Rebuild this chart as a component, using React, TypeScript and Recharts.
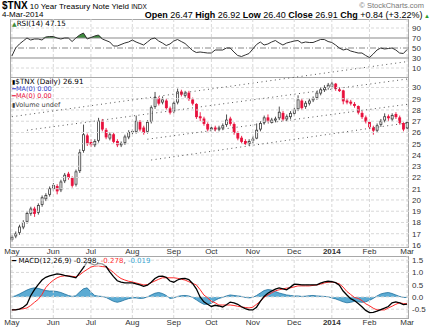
import React from "react"
import { ComposedChart, Line, Area, Bar, XAxis, YAxis, ReferenceLine } from "recharts"

// month gridlines: index of first bar of each month (2 trading days per bar)
const monthLabels = ["May", "Jun", "Jul", "Aug", "Sep", "Oct", "Nov", "Dec", "2014", "Feb", "Mar"]
const monthStarts = [0, 11, 21, 32, 43, 53, 64, 75, 85, 95, 105]

const opens = [
  16.5, 16.8, 17.1, 17.6, 18.1, 18.8, 19.2, 18.9, 19.6, 20.1,
  20.5, 21.0, 21.2, 20.9, 21.7, 22.3, 21.9, 21.4, 22.6, 24.4,
  25.7, 25.1, 24.9, 25.3, 27.0, 26.2, 25.5, 25.8, 25.2, 24.9,
  25.1, 25.6, 26.1, 26.1, 26.9, 26.4, 26.1, 27.0, 28.3, 29.0,
  28.7, 28.8, 28.1, 27.9, 28.7, 29.6, 29.3, 29.5, 28.9, 28.5,
  27.4, 27.2, 26.7, 26.3, 26.4, 26.3, 26.4, 26.7, 27.2, 26.7,
  25.9, 25.5, 25.2, 25.0, 25.3, 25.5, 26.3, 26.9, 27.3, 26.9,
  27.1, 27.3, 27.7, 27.2, 27.4, 27.7, 28.1, 28.8, 28.3, 28.6,
  28.9, 29.1, 29.5, 29.8, 30.0, 30.1, 30.3, 29.8, 29.7, 28.8,
  28.7, 28.5, 28.3, 27.7, 27.3, 26.9, 26.4, 26.2, 26.7, 27.1,
  27.4, 27.2, 27.6, 27.3, 26.8, 26.4,
]
const highs = [
  16.9, 17.2, 17.8, 18.2, 19.0, 19.4, 19.4, 19.7, 20.4, 20.6,
  21.2, 21.5, 21.4, 21.8, 22.4, 22.5, 22.1, 22.7, 24.5, 26.7,
  25.9, 25.4, 25.4, 27.3, 27.2, 26.4, 26.0, 26.0, 25.4, 25.2,
  25.8, 26.2, 26.3, 27.5, 27.1, 26.6, 27.1, 28.4, 29.6, 29.2,
  29.2, 29.0, 28.3, 28.8, 29.9, 29.8, 29.7, 29.7, 29.1, 28.6,
  27.8, 27.4, 26.9, 26.6, 26.6, 26.6, 26.8, 27.6, 27.4, 26.9,
  26.1, 25.7, 25.4, 25.4, 25.7, 26.8, 27.0, 27.5, 27.6, 27.3,
  27.4, 28.3, 27.9, 27.6, 27.9, 28.2, 29.3, 29.0, 28.8, 29.0,
  29.2, 29.7, 30.0, 30.2, 30.4, 30.5, 30.4, 30.0, 29.8, 29.0,
  28.9, 28.7, 28.4, 27.9, 27.5, 27.0, 26.6, 26.8, 27.2, 27.7,
  27.6, 27.7, 27.8, 27.5, 26.9, 27.0,
]
const lows = [
  16.3, 16.6, 16.9, 17.4, 17.9, 18.6, 18.5, 18.7, 19.4, 19.9,
  20.3, 20.8, 20.5, 20.7, 21.5, 21.8, 21.1, 21.2, 22.4, 24.2,
  24.8, 24.7, 24.7, 25.1, 26.1, 25.4, 25.3, 25.0, 24.7, 24.7,
  24.9, 25.4, 25.8, 25.9, 26.1, 25.8, 25.9, 26.8, 28.1, 28.4,
  28.5, 28.0, 27.6, 27.7, 28.5, 29.2, 29.1, 28.8, 28.4, 27.2,
  27.0, 26.6, 26.1, 26.1, 26.1, 26.1, 26.2, 26.5, 26.6, 25.8,
  25.3, 25.0, 24.9, 24.8, 25.0, 25.4, 26.1, 26.7, 26.9, 26.8,
  26.9, 27.1, 27.0, 27.0, 27.2, 27.5, 27.9, 28.0, 28.1, 28.4,
  28.7, 28.9, 29.3, 29.6, 29.8, 29.9, 29.7, 29.6, 28.5, 28.5,
  28.4, 28.2, 27.6, 27.2, 26.8, 26.3, 25.8, 26.0, 26.5, 26.9,
  27.0, 27.0, 27.2, 26.7, 26.1, 26.3,
]
const closes = [
  16.7, 17.0, 17.6, 18.0, 18.8, 19.2, 18.8, 19.5, 20.2, 20.4,
  21.0, 21.3, 20.8, 21.6, 22.2, 22.0, 21.3, 22.5, 24.2, 25.8,
  25.0, 24.9, 25.2, 27.0, 26.3, 25.6, 25.8, 25.2, 24.9, 25.0,
  25.6, 26.0, 26.0, 27.0, 26.3, 26.0, 26.9, 28.2, 29.1, 28.6,
  28.9, 28.2, 27.8, 28.6, 29.6, 29.4, 29.5, 29.0, 28.6, 27.4,
  27.3, 26.8, 26.3, 26.4, 26.3, 26.4, 26.6, 27.1, 26.8, 26.0,
  25.5, 25.2, 25.0, 25.2, 25.4, 26.2, 26.8, 27.3, 27.0, 27.1,
  27.2, 27.8, 27.2, 27.4, 27.7, 28.0, 28.9, 28.2, 28.6, 28.8,
  29.0, 29.5, 29.8, 30.0, 30.2, 30.3, 29.9, 29.8, 28.8, 28.7,
  28.6, 28.4, 27.8, 27.4, 27.0, 26.5, 26.2, 26.6, 27.0, 27.4,
  27.3, 27.5, 27.4, 26.9, 26.3, 26.9,
]
const rsiValues = [
  34, 50, 58, 64, 70, 66, 68, 68, 66, 72,
  73, 73, 70, 68, 70, 70, 63, 70, 76, 80,
  68, 71, 74, 76, 68, 65, 62, 54, 54, 57,
  60, 62, 66, 62, 59, 56, 62, 68, 70, 64,
  60, 55, 58, 64, 67, 63, 59, 52, 45, 41,
  42, 41, 40, 40, 46, 46, 46, 50, 50, 42,
  35, 33, 36, 39, 48, 57, 62, 56, 58, 62,
  65, 60, 56, 60, 62, 64, 65, 60, 62, 61,
  61, 64, 67, 67, 63, 61, 56, 50, 46, 48,
  44, 42, 40, 40, 35, 31, 38, 46, 50, 48,
  49, 50, 46, 40, 39, 47,
]
const macdValues = [
  -0.53, -0.53, -0.5, -0.42, -0.3, 0.05, 0.3, 0.5, 0.69, 0.8,
  0.86, 0.9, 0.94, 0.92, 0.88, 0.85, 0.82, 0.78, 0.98, 1.2,
  1.43, 1.36, 1.3, 1.37, 1.35, 1.25, 1.02, 0.83, 0.66, 0.6,
  0.57, 0.57, 0.57, 0.53, 0.49, 0.43, 0.48, 0.6, 0.75, 0.84,
  0.85, 0.8, 0.65, 0.6, 0.69, 0.75, 0.76, 0.71, 0.55, 0.33,
  0.0, -0.2, -0.3, -0.39, -0.34, -0.37, -0.41, -0.32, -0.21, -0.24,
  -0.3, -0.4, -0.48, -0.53, -0.53, -0.42, -0.18, 0.02, 0.15, 0.24,
  0.32, 0.37, 0.33, 0.29, 0.4, 0.52, 0.51, 0.49, 0.49, 0.49,
  0.49, 0.49, 0.56, 0.61, 0.64, 0.62, 0.58, 0.48, 0.24, 0.08,
  -0.07, -0.15, -0.27, -0.4, -0.55, -0.64, -0.63, -0.58, -0.52, -0.46,
  -0.39, -0.24, -0.2, -0.24, -0.31, -0.29,
]
const signalValues = [
  -0.53, -0.52, -0.5, -0.48, -0.45, -0.35, -0.22, -0.1, 0.1, 0.38,
  0.55, 0.68, 0.78, 0.84, 0.86, 0.86, 0.84, 0.82, 0.9, 1.02,
  1.12, 1.22, 1.26, 1.27, 1.24, 1.22, 1.12, 1.0, 0.86, 0.75,
  0.69, 0.64, 0.61, 0.57, 0.53, 0.49, 0.5, 0.58, 0.65, 0.72,
  0.78, 0.78, 0.78, 0.78, 0.76, 0.72, 0.69, 0.62, 0.55, 0.49,
  0.3, 0.08, -0.04, -0.18, -0.24, -0.33, -0.33, -0.33, -0.33, -0.35,
  -0.38, -0.41, -0.43, -0.45, -0.42, -0.3, -0.18, -0.02, 0.08, 0.17,
  0.25, 0.29, 0.33, 0.36, 0.37, 0.41, 0.45, 0.45, 0.45, 0.45,
  0.47, 0.49, 0.52, 0.57, 0.6, 0.61, 0.58, 0.53, 0.4, 0.22,
  0.1, -0.02, -0.06, -0.15, -0.28, -0.36, -0.46, -0.53, -0.53, -0.53,
  -0.45, -0.38, -0.3, -0.24, -0.27, -0.28,
]
const histValues = [
  0.0, 0.05, 0.12, 0.2, 0.28, 0.34, 0.37, 0.35, 0.3, 0.26,
  0.24, 0.24, 0.22, 0.18, 0.12, 0.06, 0.02, 0.05, 0.2, 0.33,
  0.37, 0.2, 0.06, 0.03, 0.02, -0.02, -0.1, -0.18, -0.22, -0.18,
  -0.12, -0.07, -0.04, -0.04, -0.06, -0.05, 0.0, 0.08, 0.15, 0.18,
  0.14, 0.06, -0.06, -0.04, 0.02, 0.05, 0.06, 0.04, -0.02, -0.12,
  -0.22, -0.3, -0.3, -0.26, -0.14, -0.06, -0.02, 0.04, 0.08, 0.06,
  0.04, 0.02, -0.02, -0.04, -0.02, 0.06, 0.16, 0.26, 0.3, 0.28,
  0.22, 0.16, 0.12, 0.08, 0.06, 0.04, 0.04, 0.02, 0.03, 0.05,
  0.06, 0.04, 0.03, 0.02, 0.01, -0.04, -0.08, -0.14, -0.2, -0.24,
  -0.22, -0.18, -0.2, -0.22, -0.2, -0.14, -0.06, 0.04, 0.12, 0.16,
  0.18, 0.14, 0.08, 0.02, -0.02, -0.02,
]

// dotted channel lines drawn on the price panel: [startIdx, startYield, endIdx, endYield]
const trendLines = [
  [0, 27.4, 105, 32.3],
  [4, 26.2, 105, 30.75],
  [36, 25.4, 105, 28.5],
  [37, 23.55, 105, 26.85],
]

const priceTicks = [16, 17, 18, 19, 20, 21, 22, 23, 24, 25, 26, 27, 28, 29, 30]
const rsiTicks = [10, 30, 50, 70, 90]
const macdTicks = [-0.5, 0, 0.5, 1, 1.5]

const RED = "#e8103c"
const GRID = "#d8d8d8"
const FONT = "Liberation Sans, Arial, sans-serif"
const LEG = "DejaVu Sans, sans-serif"

const rows = closes.map((c, i) => ({
  idx: i,
  o: opens[i],
  h: highs[i],
  l: lows[i],
  c,
  range: [lows[i], highs[i]],
  up: i === 0 || c >= closes[i - 1],
  rsi: rsiValues[i],
  rsiHot: [70, Math.max(70, rsiValues[i])],
  macd: macdValues[i],
  signal: signalValues[i],
  hist: histValues[i],
}))

function Candle(props: any) {
  const { x, y, width, height, payload } = props
  const top = Math.min(y, y + height)
  const hgt = Math.abs(height)
  const { o, h, l, c, up } = payload
  const ppu = hgt / (h - l || 1)
  const cx = x + width / 2
  const bTop = top + (h - Math.max(o, c)) * ppu
  const bBot = top + (h - Math.min(o, c)) * ppu
  const color = up ? "#3a3a3a" : RED
  const bw = 2
  return (
    <g>
      <line x1={cx} x2={cx} y1={top} y2={top + hgt} stroke={color} strokeWidth={0.9} />
      <rect x={cx - bw / 2} y={bTop} width={bw} height={Math.max(1, bBot - bTop)}
        fill={c > o ? "#fff" : color} stroke={color} strokeWidth={0.8} />
    </g>
  )
}

function MonthTick(props: any) {
  const { x, y, payload } = props
  const label = monthLabels[monthStarts.indexOf(payload.value)]
  return (
    <text x={x} y={y} dy={7} textAnchor="middle" fontSize={8} fontFamily={FONT}
      fontWeight={label === "2014" ? "bold" : "normal"} fill="#333">{label}</text>
  )
}

const yTick = { fontSize: 8, fill: "#333", fontFamily: FONT, textAnchor: "start" as const }

function vGrid() {
  return monthStarts.map((m) => (
    <ReferenceLine key={"v" + m} x={m} stroke={GRID} strokeDasharray="3 2" ifOverflow="visible" />
  ))
}

const box = (top: number, height: number): React.CSSProperties => ({
  position: "absolute", left: 10, top, width: 399, height, border: "1px solid #a8a8a8", boxSizing: "border-box",
})

export default function App() {
  return (
    <div style={{ position: "absolute", left: 0, top: 0, width: 432, height: 327, background: "#fff", overflow: "hidden" }}>
      <style>{".recharts-surface{overflow:visible}"}</style>

      <div style={box(19, 59)} />
      <div style={box(77, 171)} />
      <div style={box(256, 63)} />

      {/* price panel */}
      <div style={{ position: "absolute", left: 0, top: 77 }}>
        <ComposedChart width={432} height={180} data={rows} margin={{ top: 0, right: 0, bottom: 0, left: 10 }}>
          <XAxis dataKey="idx" scale="band" ticks={monthStarts} interval={0} tick={<MonthTick />}
            tickLine={false} axisLine={false} height={10} tickSize={0} tickMargin={0} />
          <YAxis orientation="right" width={23} domain={[15.82, 30.93]} allowDataOverflow ticks={priceTicks}
            tick={yTick} tickLine={false} axisLine={false} tickSize={2} tickMargin={1} interval={0} />
          {priceTicks.map((t) => (
            <ReferenceLine key={t} y={t} stroke={GRID} strokeDasharray="3 2" />
          ))}
          {vGrid()}
          {trendLines.map((t, k) => (
            <ReferenceLine key={"t" + k} segment={[{ x: t[0], y: t[1] }, { x: t[2], y: t[3] }]}
              stroke="#555" strokeWidth={1} strokeDasharray="1 3.5" ifOverflow="visible" />
          ))}
          <Bar dataKey="range" barSize={2} shape={<Candle />} isAnimationActive={false} />
        </ComposedChart>
      </div>

      {/* RSI panel */}
      <div style={{ position: "absolute", left: 0, top: 19 }}>
        <ComposedChart width={432} height={58} data={rows} margin={{ top: 0, right: 0, bottom: 0, left: 10 }}>
          <XAxis dataKey="idx" scale="band" hide />
          <YAxis orientation="right" width={23} domain={[-8, 108]} allowDataOverflow ticks={rsiTicks}
            tick={yTick} tickLine={false} axisLine={false} tickSize={2} tickMargin={1} interval={0} />
          <ReferenceLine y={90} stroke={GRID} strokeDasharray="3 2" />
          <ReferenceLine y={10} stroke={GRID} strokeDasharray="3 2" />
          {vGrid()}
          <ReferenceLine y={70} stroke="#8a8a8a" strokeWidth={1.2} />
          <ReferenceLine y={30} stroke="#8a8a8a" strokeWidth={1.2} />
          <ReferenceLine y={50} stroke="#888" strokeDasharray="6 2 1 2" />
          <Area dataKey="rsiHot" stroke="none" fill="#3d8b3d" fillOpacity={1} isAnimationActive={false} />
          <Line dataKey="rsi" stroke="#333" strokeWidth={1} dot={false} isAnimationActive={false} />
        </ComposedChart>
      </div>

      {/* MACD panel */}
      <div style={{ position: "absolute", left: 0, top: 256 }}>
        <ComposedChart width={432} height={71} data={rows} margin={{ top: 0, right: 0, bottom: 0, left: 10 }}>
          <XAxis dataKey="idx" scale="band" ticks={monthStarts} interval={0} tick={<MonthTick />}
            tickLine={false} axisLine={false} height={9} tickSize={0} tickMargin={0} />
          <YAxis orientation="right" width={23} domain={[-0.86, 1.67]} allowDataOverflow ticks={macdTicks}
            tickFormatter={(v: number) => v.toFixed(1)} tick={yTick} tickLine={false} axisLine={false}
            tickSize={2} tickMargin={1} interval={0} />
          {macdTicks.map((t) => (
            <ReferenceLine key={t} y={t} stroke={GRID} strokeDasharray="3 2" />
          ))}
          {vGrid()}
          <Area dataKey="hist" baseValue={0} stroke="#1d6f9c" strokeWidth={0.8} fill="#3f9ccb" fillOpacity={0.85}
            isAnimationActive={false} />
          <Line dataKey="signal" stroke="#ff2a2a" strokeWidth={1} dot={false} isAnimationActive={false} />
          <Line dataKey="macd" stroke="#000" strokeWidth={1.3} dot={false} isAnimationActive={false} />
        </ComposedChart>
      </div>

      {/* header */}
      <div style={{ position: "absolute", left: 2, top: 0, fontFamily: FONT, fontSize: 8, whiteSpace: "nowrap", lineHeight: "11px" }}>
        <b style={{ fontSize: 10 }}>$TNX</b> 10 Year Treasury Note Yield <span style={{ fontSize: 6.5 }}>INDX</span>
      </div>
      <div style={{ position: "absolute", left: 2, top: 10, fontFamily: FONT, fontSize: 8, lineHeight: "9px" }}>4-Mar-2014</div>
      <div style={{ position: "absolute", right: 8, top: 1, fontFamily: FONT, fontSize: 7.5, color: "#777", lineHeight: "9px" }}>
        © StockCharts.com
      </div>
      <div style={{ position: "absolute", right: 2, top: 9.5, fontFamily: FONT, fontSize: 9, whiteSpace: "nowrap", lineHeight: "10px" }}>
        <b>Open</b> 26.47 <b>High</b> 26.92 <b>Low</b> 26.40 <b>Close</b> 26.91 <b>Chg</b> +0.84 (+3.22%)
        <span style={{ color: "#2a9a2a", fontSize: 6 }}> ▲</span>
      </div>

      {/* legends */}
      <div style={{ position: "absolute", left: 12, top: 19, fontFamily: LEG, fontSize: 7.2, lineHeight: "9px", whiteSpace: "nowrap" }}>
        <span style={{ color: "#3d8b3d", fontSize: 6 }}>▲</span>RSI(14) 47.15
      </div>
      <div style={{ position: "absolute", left: 12, top: 78, fontFamily: LEG, fontSize: 7.2, lineHeight: "7.5px", whiteSpace: "nowrap" }}>
        <div><span style={{ fontSize: 6 }}>▮</span>$TNX (Daily) 26.91</div>
        <div style={{ color: "#3344cc", fontSize: 6.5 }}>━MA(0) 0.00</div>
        <div style={{ color: RED, fontSize: 6.5 }}>━MA(0) 0.00</div>
        <div style={{ color: "#444", fontSize: 6.5 }}><span style={{ fontSize: 6 }}>▮</span>Volume undef</div>
      </div>
      <div style={{ position: "absolute", left: 12, top: 257, fontFamily: LEG, fontSize: 7, lineHeight: "9px", whiteSpace: "nowrap", background: "rgba(255,255,255,0.6)" }}>
        ━ MACD(12,26,9) -0.298, <span style={{ color: "#ff3030" }}>-0.278</span>, <span style={{ color: "#3aa6d0" }}>-0.019</span>
      </div>
    </div>
  )
}
